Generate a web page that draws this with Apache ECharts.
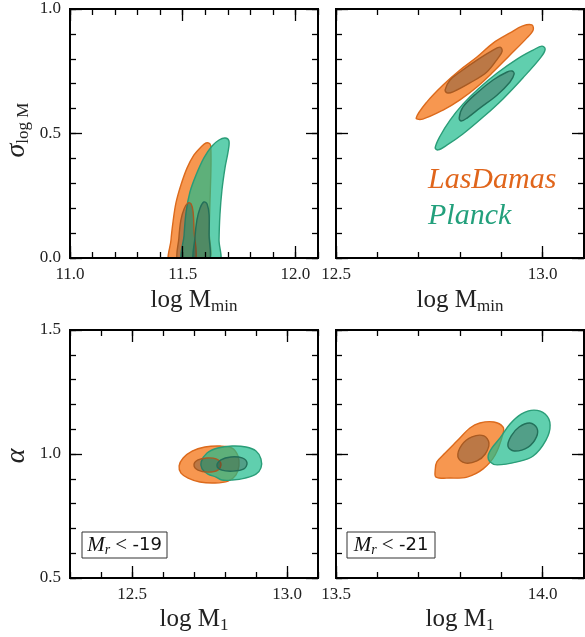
<!DOCTYPE html>
<html>
<head>
<meta charset="utf-8">
<script src="https://cdn.jsdelivr.net/npm/echarts@6/dist/echarts.min.js"></script>
<style>
  html, body { margin: 0; padding: 0; background: #fff; }
  #chart { width: 585px; height: 637px; }
</style>
</head>
<body>
<div id="chart"></div>
<script>
// ---------- axis ranges ----------
const xRangeMmin19 = [11.0, 12.1];
const xRangeMmin21 = [12.5, 13.1];
const xRangeM1_19 = [12.3, 13.1];
const xRangeM1_21 = [13.5, 14.1];
const yRangeSigma = [0.0, 1.0];
const yRangeAlpha = [0.5, 1.5];

// ---------- labelled (major) ticks ----------
const xLabelsMmin19 = [11.0, 11.5, 12.0];
const xLabelsMmin21 = [12.5, 13.0];
const xLabelsM1_19 = [12.5, 13.0];
const xLabelsM1_21 = [13.5, 14.0];
const yLabelsSigma = [0.0, 0.5, 1.0];
const yLabelsAlpha = [0.5, 1.0, 1.5];

// ---------- confidence contours: [x, y] vertices ----------
// Mr < -19 : sigma_logM vs logMmin
const sigmaMmin19LasDamas95 = [[11.444,-0.016],[11.448,0.072],[11.457,0.145],[11.470,0.221],[11.492,0.293],[11.519,0.361],[11.550,0.414],[11.581,0.446],[11.603,0.462],[11.621,0.458],[11.625,0.434],[11.625,0.353],[11.621,0.233],[11.617,0.112],[11.612,-0.016]];
const sigmaMmin19LasDamas68 = [[11.479,-0.016],[11.483,0.080],[11.492,0.153],[11.506,0.197],[11.523,0.221],[11.537,0.217],[11.546,0.185],[11.550,0.112],[11.554,-0.016]];
const sigmaMmin19Planck95 = [[11.501,-0.016],[11.506,0.092],[11.515,0.185],[11.532,0.265],[11.559,0.333],[11.594,0.402],[11.630,0.450],[11.661,0.474],[11.688,0.482],[11.705,0.470],[11.701,0.426],[11.688,0.365],[11.674,0.273],[11.665,0.173],[11.661,0.072],[11.661,-0.016]];
const sigmaMmin19Planck68 = [[11.550,-0.016],[11.554,0.080],[11.563,0.153],[11.577,0.201],[11.594,0.225],[11.608,0.217],[11.617,0.173],[11.617,0.092],[11.617,-0.016]];

// Mr < -21 : sigma_logM vs logMmin
const sigmaMmin21LasDamas95 = [[12.694,0.562],[12.720,0.627],[12.759,0.695],[12.800,0.755],[12.841,0.807],[12.880,0.863],[12.921,0.904],[12.952,0.932],[12.974,0.936],[12.977,0.916],[12.962,0.884],[12.921,0.815],[12.880,0.747],[12.841,0.687],[12.800,0.635],[12.759,0.594],[12.710,0.558]];
const sigmaMmin21LasDamas68 = [[12.764,0.675],[12.776,0.715],[12.800,0.747],[12.841,0.795],[12.880,0.835],[12.897,0.847],[12.902,0.831],[12.892,0.803],[12.865,0.747],[12.824,0.703],[12.783,0.667],[12.769,0.663]];
const sigmaMmin21Planck95 = [[12.740,0.442],[12.752,0.490],[12.776,0.554],[12.807,0.618],[12.844,0.679],[12.890,0.743],[12.938,0.799],[12.977,0.835],[12.998,0.851],[13.006,0.839],[12.996,0.807],[12.952,0.723],[12.904,0.639],[12.856,0.566],[12.807,0.498],[12.769,0.454],[12.747,0.434]];
const sigmaMmin21Planck68 = [[12.798,0.562],[12.807,0.606],[12.841,0.663],[12.880,0.715],[12.914,0.747],[12.926,0.751],[12.931,0.739],[12.921,0.707],[12.890,0.655],[12.848,0.602],[12.817,0.562],[12.803,0.550]];

// Mr < -19 : alpha vs logM1
const alphaM1_19LasDamas95 = [[12.652,0.952],[12.665,0.984],[12.694,1.012],[12.735,1.028],[12.784,1.032],[12.823,1.024],[12.842,0.992],[12.845,0.952],[12.835,0.915],[12.810,0.891],[12.768,0.883],[12.719,0.887],[12.681,0.903],[12.658,0.923]];
const alphaM1_19LasDamas68 = [[12.700,0.956],[12.713,0.976],[12.742,0.984],[12.771,0.980],[12.787,0.960],[12.777,0.935],[12.745,0.927],[12.713,0.935]];
const alphaM1_19Planck95 = [[12.723,0.968],[12.742,1.004],[12.777,1.024],[12.823,1.032],[12.868,1.028],[12.900,1.012],[12.916,0.980],[12.916,0.944],[12.900,0.919],[12.865,0.903],[12.823,0.895],[12.790,0.895],[12.771,0.907],[12.745,0.919],[12.726,0.940]];
const alphaM1_19Planck68 = [[12.774,0.952],[12.787,0.976],[12.819,0.988],[12.855,0.984],[12.871,0.964],[12.861,0.940],[12.826,0.931],[12.790,0.935]];

// Mr < -21 : alpha vs logM1
const alphaM1_21LasDamas95 = [[13.740,0.935],[13.742,0.907],[13.776,0.903],[13.817,0.907],[13.856,0.940],[13.885,0.996],[13.904,1.081],[13.904,1.109],[13.882,1.129],[13.848,1.125],[13.824,1.105],[13.795,1.056],[13.764,1.004],[13.744,0.968]];
const alphaM1_21LasDamas68 = [[13.795,0.988],[13.812,0.964],[13.841,0.972],[13.861,1.000],[13.870,1.044],[13.858,1.073],[13.829,1.069],[13.804,1.036]];
const alphaM1_21Planck95 = [[13.868,0.992],[13.873,0.968],[13.890,0.956],[13.938,0.968],[13.977,0.992],[14.008,1.056],[14.018,1.117],[14.006,1.161],[13.979,1.177],[13.948,1.161],[13.921,1.121],[13.897,1.065],[13.877,1.024]];
const alphaM1_21Planck68 = [[13.916,1.032],[13.931,1.012],[13.965,1.028],[13.985,1.069],[13.986,1.105],[13.969,1.125],[13.943,1.109],[13.924,1.073]];

// ---------- styles ----------
const SERIF = 'Liberation Serif';
const ORANGE_FILL = 'rgba(243,107,5,0.7)';
const ORANGE_EDGE = '#dc6a1c';
const ORANGE_INNER_EDGE = '#a85a22';
const GREEN_FILL = 'rgba(28,186,139,0.7)';
const GREEN_EDGE = '#2a9d78';
const GREEN_INNER_EDGE = '#23705a';
const INNER_FILL = 'rgba(50,50,50,0.3)';
const TICK_COLOR = '#000';

// panel boxes in pixels
const panels = [
  { left: 70,  top: 9,   width: 248, height: 249, xr: xRangeMmin19, yr: yRangeSigma, xl: xLabelsMmin19, yl: yLabelsSigma, yLabelShow: true },
  { left: 336, top: 9,   width: 248, height: 249, xr: xRangeMmin21, yr: yRangeSigma, xl: xLabelsMmin21, yl: yLabelsSigma, yLabelShow: false },
  { left: 70,  top: 330, width: 248, height: 248, xr: xRangeM1_19,  yr: yRangeAlpha, xl: xLabelsM1_19,  yl: yLabelsAlpha, yLabelShow: true },
  { left: 336, top: 330, width: 248, height: 248, xr: xRangeM1_21,  yr: yRangeAlpha, xl: xLabelsM1_21,  yl: yLabelsAlpha, yLabelShow: false }
];

const grid = [];
const xAxis = [];
const yAxis = [];
const mainAxis = [];   // axis indices used by the series of each panel

const fmt = v => Number(v).toFixed(1);
const labelStyle = { fontFamily: SERIF, fontSize: 17, color: '#222' };

function minorAxis(gridIndex, position, range) {
  return {
    type: 'value', gridIndex, position, min: range[0], max: range[1], interval: 0.1,
    axisLine: { show: true, onZero: false, lineStyle: { color: '#000', width: 2 } },
    axisTick: { show: true, inside: true, length: 6, lineStyle: { color: TICK_COLOR, width: 1.3 } },
    axisLabel: { show: false },
    splitLine: { show: false },
    z: 10
  };
}
function majorAxis(gridIndex, position, range, labels, showLabel, isX) {
  return {
    type: 'value', gridIndex, position, min: range[0], max: range[1],
    axisLine: { show: false, onZero: false },
    axisTick: { show: true, inside: true, length: 12, customValues: labels, lineStyle: { color: TICK_COLOR, width: 1.3 } },
    axisLabel: Object.assign({ show: showLabel, customValues: labels, formatter: fmt, margin: isX ? 8 : 9 }, labelStyle),
    splitLine: { show: false },
    z: 10
  };
}

panels.forEach((p, g) => {
  grid.push({ left: p.left, top: p.top, width: p.width, height: p.height, show: true, borderColor: '#000', borderWidth: 2, backgroundColor: 'transparent' });
  const xi = xAxis.length, yi = yAxis.length;
  xAxis.push(minorAxis(g, 'bottom', p.xr));
  xAxis.push(majorAxis(g, 'bottom', p.xr, p.xl, true, true));
  xAxis.push(minorAxis(g, 'top', p.xr));
  xAxis.push(majorAxis(g, 'top', p.xr, p.xl, false, true));
  yAxis.push(minorAxis(g, 'left', p.yr));
  yAxis.push(majorAxis(g, 'left', p.yr, p.yl, p.yLabelShow, false));
  yAxis.push(minorAxis(g, 'right', p.yr));
  yAxis.push(majorAxis(g, 'right', p.yr, p.yl, false, false));
  mainAxis.push({ x: xi, y: yi });
});

function contour(name, pts, panelIndex, fill, edge) {
  return {
    type: 'custom', name,
    xAxisIndex: mainAxis[panelIndex].x, yAxisIndex: mainAxis[panelIndex].y,
    clip: true, silent: true, animation: false,
    data: pts,
    renderItem(params, api) {
      if (params.dataIndex !== 0) return null;
      const points = pts.map(pt => api.coord(pt));
      return {
        type: 'polygon',
        shape: { points, smooth: 0.35 },
        style: { fill, stroke: edge, lineWidth: 1.4 }
      };
    }
  };
}

// outer (95%) regions first, inner (68%) regions on top
const series = [
  contour('LasDamas', sigmaMmin19LasDamas95, 0, ORANGE_FILL, ORANGE_EDGE),
  contour('Planck', sigmaMmin19Planck95, 0, GREEN_FILL, GREEN_EDGE),
  contour('LasDamas', sigmaMmin19LasDamas68, 0, INNER_FILL, ORANGE_INNER_EDGE),
  contour('Planck', sigmaMmin19Planck68, 0, INNER_FILL, GREEN_INNER_EDGE),

  contour('LasDamas', sigmaMmin21LasDamas95, 1, ORANGE_FILL, ORANGE_EDGE),
  contour('Planck', sigmaMmin21Planck95, 1, GREEN_FILL, GREEN_EDGE),
  contour('LasDamas', sigmaMmin21LasDamas68, 1, INNER_FILL, ORANGE_INNER_EDGE),
  contour('Planck', sigmaMmin21Planck68, 1, INNER_FILL, GREEN_INNER_EDGE),

  contour('LasDamas', alphaM1_19LasDamas95, 2, ORANGE_FILL, ORANGE_EDGE),
  contour('Planck', alphaM1_19Planck95, 2, GREEN_FILL, GREEN_EDGE),
  contour('LasDamas', alphaM1_19LasDamas68, 2, INNER_FILL, ORANGE_INNER_EDGE),
  contour('Planck', alphaM1_19Planck68, 2, INNER_FILL, GREEN_INNER_EDGE),

  contour('LasDamas', alphaM1_21LasDamas95, 3, ORANGE_FILL, ORANGE_EDGE),
  contour('Planck', alphaM1_21Planck95, 3, GREEN_FILL, GREEN_EDGE),
  contour('LasDamas', alphaM1_21LasDamas68, 3, INNER_FILL, ORANGE_INNER_EDGE),
  contour('Planck', alphaM1_21Planck68, 3, INNER_FILL, GREEN_INNER_EDGE)
];

// ---------- titles, legend text and sample boxes ----------
const mainRich = {
  m: { fontFamily: SERIF, fontSize: 25, fill: '#222' },
  s: { fontFamily: SERIF, fontSize: 17, fill: '#222', padding: [14, 0, 0, 0] }
};
function xTitle(cx, cy, sub) {
  return {
    type: 'text', x: cx, y: cy, silent: true,
    style: { text: '{m|log M}{s|' + sub + '}', rich: mainRich, align: 'center', verticalAlign: 'middle', textAlign: 'center', textVerticalAlign: 'middle' }
  };
}
function yTitle(cx, cy, sym, sub) {
  const rich = {
    g: { fontFamily: SERIF, fontStyle: 'italic', fontSize: 28, fill: '#222' },
    s: { fontFamily: SERIF, fontSize: 17, fill: '#222', padding: [14, 0, 0, 0] }
  };
  return {
    type: 'text', x: cx, y: cy, rotation: Math.PI / 2, silent: true,
    style: { text: '{g|' + sym + '}' + (sub ? '{s|' + sub + '}' : ''), rich, align: 'center', verticalAlign: 'middle', textAlign: 'center', textVerticalAlign: 'middle' }
  };
}
function sampleBox(x, y, w, h, mag) {
  return [
    { type: 'rect', shape: { x, y, width: w, height: h }, style: { fill: '#fff', stroke: '#333', lineWidth: 1 }, z: 20, silent: true },
    {
      type: 'text', x: x + w / 2, y: y + h / 2, z: 21, silent: true,
      style: {
        text: '{m|M}{r|r}{t| < }{n|' + mag + '}',
        rich: {
          m: { fontFamily: SERIF, fontStyle: 'italic', fontSize: 21, fill: '#111' },
          r: { fontFamily: SERIF, fontStyle: 'italic', fontSize: 14, fill: '#111', padding: [10, 0, 0, 0] },
          t: { fontFamily: SERIF, fontSize: 21, fill: '#111' },
          n: { fontFamily: 'DejaVu Sans', fontSize: 18, fill: '#111' }
        },
        align: 'center', verticalAlign: 'middle', textAlign: 'center', textVerticalAlign: 'middle'
      }
    }
  ];
}

const legendFont = { fontFamily: SERIF, fontStyle: 'italic', fontSize: 30 };
const graphic = [
  xTitle(194, 300, 'min'),
  xTitle(460, 300, 'min'),
  xTitle(194, 619, '1'),
  xTitle(460, 619, '1'),
  yTitle(17, 130, 'σ', 'log M'),
  yTitle(17, 456, 'α', ''),
  { type: 'text', x: 428, y: 180, silent: true, style: Object.assign({ text: 'LasDamas', fill: '#e0651b', align: 'left', verticalAlign: 'middle', textAlign: 'left', textVerticalAlign: 'middle' }, legendFont) },
  { type: 'text', x: 428, y: 216, silent: true, style: Object.assign({ text: 'Planck', fill: '#23a07c', align: 'left', verticalAlign: 'middle', textAlign: 'left', textVerticalAlign: 'middle' }, legendFont) },
  ...sampleBox(82, 532, 85, 26, '-19'),
  ...sampleBox(347, 532, 88, 26, '-21')
];

const chart = echarts.init(document.getElementById('chart'), null, { renderer: 'canvas' });
chart.setOption({
  animation: false,
  backgroundColor: '#fff',
  grid, xAxis, yAxis, series, graphic
});
</script>
</body>
</html>
